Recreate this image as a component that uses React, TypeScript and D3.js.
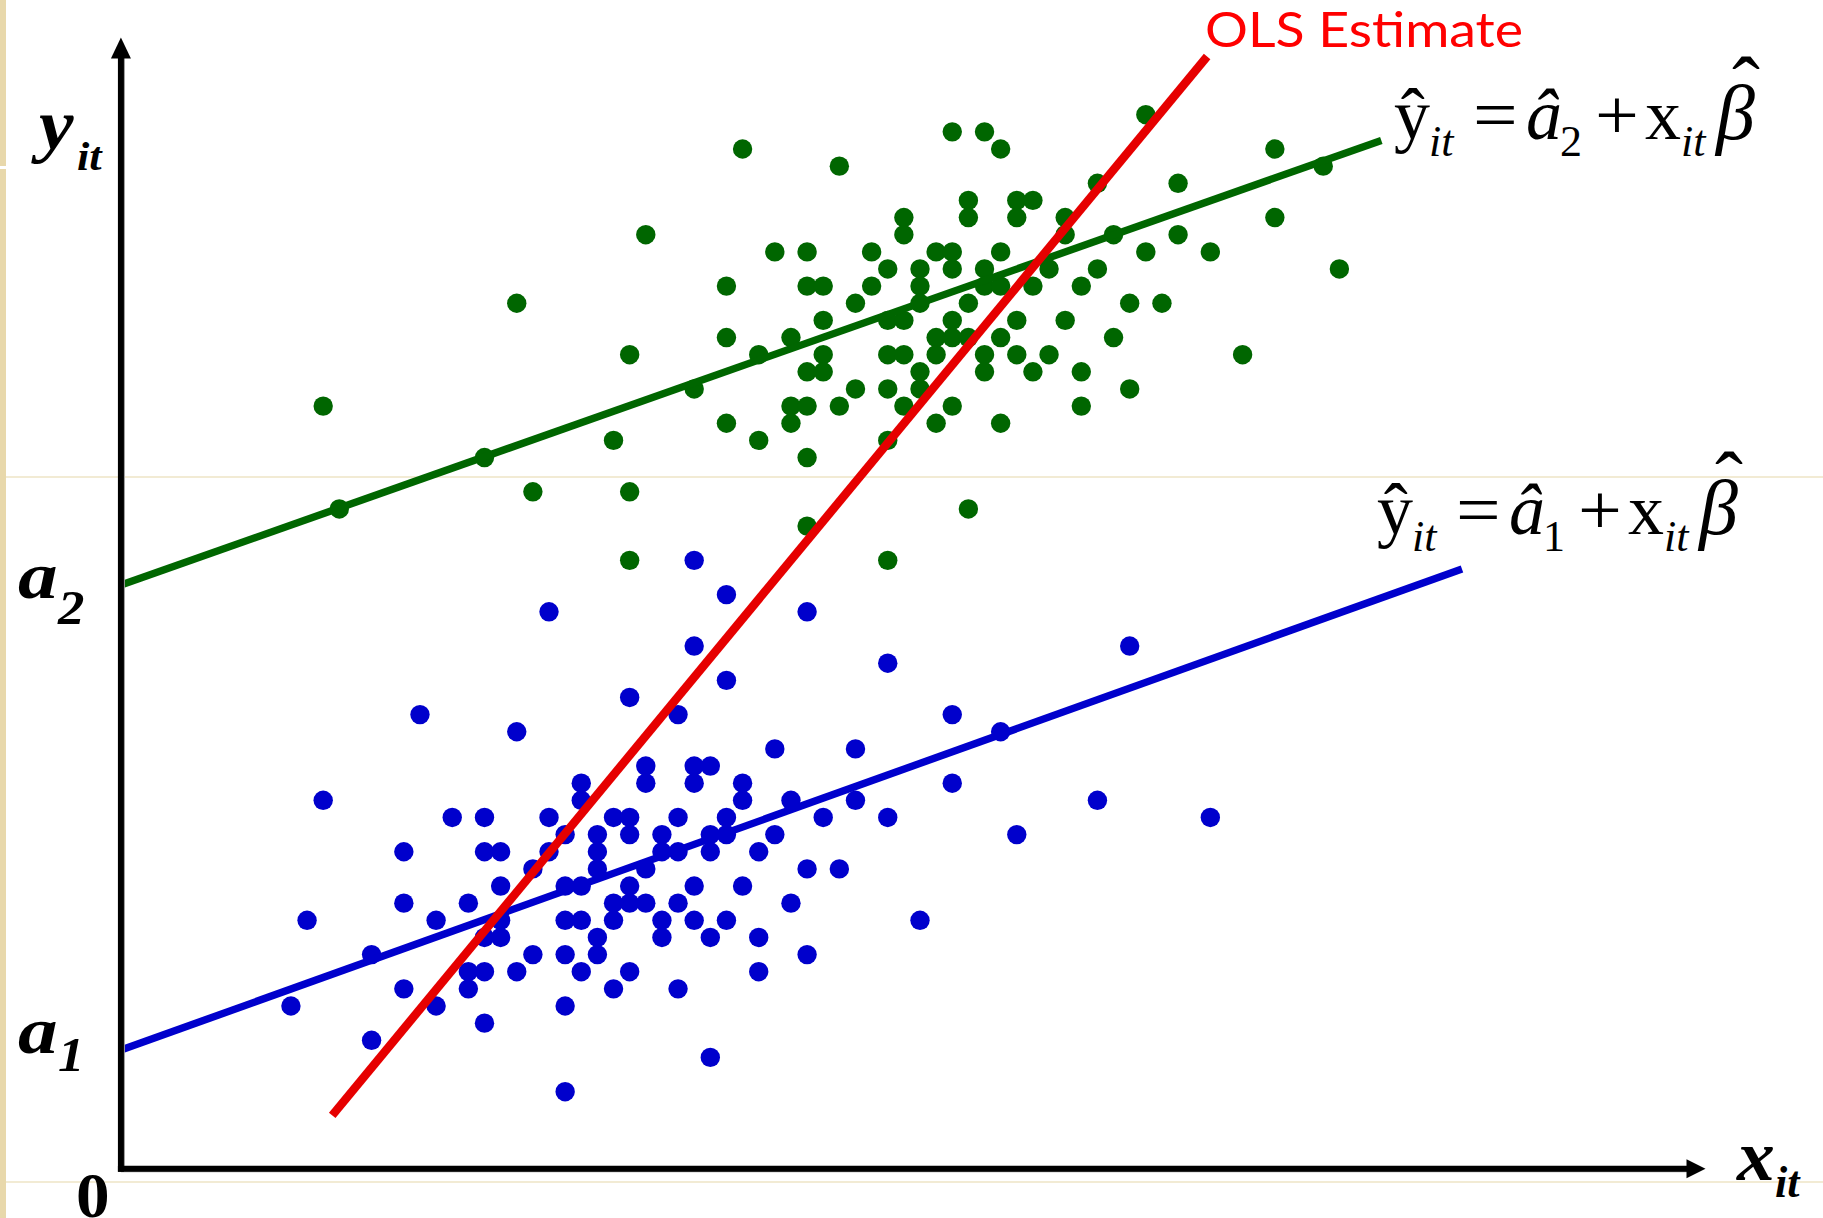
import React, { useEffect, useRef } from "react";
import * as d3 from "d3";

// values are in lattice units (one unit = one dot step)
// group 2, green: [x, y]
const greenPoints: [number, number][] = [
  [39, 60], [45, 59], [49, 56], [49, 55], [33, 55], [41, 54], [43, 54], [47, 54], [51, 54],
  [48, 53], [50, 53], [38, 52], [43, 52], [44, 52], [47, 52], [50, 52], [25, 51], [46, 51],
  [50, 51], [44, 50], [48, 50], [49, 50], [38, 49], [42, 49], [51, 49], [32, 48], [40, 48],
  [44, 48], [48, 48], [49, 48], [51, 48], [43, 47], [44, 47], [50, 47], [36, 46], [46, 46],
  [48, 46], [50, 46], [13, 45], [42, 45], [43, 45], [45, 45], [49, 45], [38, 44], [42, 44],
  [51, 44], [31, 43], [40, 43], [48, 43], [23, 42], [43, 42], [14, 39], [26, 40], [32, 40],
  [43, 38], [32, 36], [48, 36],
  [64, 62], [52, 61], [54, 61], [55, 60], [72, 60], [75, 59], [61, 58], [66, 58], [53, 57],
  [56, 57], [57, 57], [53, 56], [56, 56], [59, 56], [72, 56], [59, 55], [62, 55], [66, 55],
  [52, 54], [55, 54], [64, 54], [68, 54], [52, 53], [54, 53], [58, 53], [61, 53], [76, 53],
  [54, 52], [55, 52], [57, 52], [60, 52], [53, 51], [63, 51], [65, 51], [52, 50], [56, 50],
  [59, 50], [52, 49], [53, 49], [55, 49], [62, 49], [54, 48], [56, 48], [58, 48], [70, 48],
  [54, 47], [57, 47], [60, 47], [63, 46], [52, 45], [60, 45], [55, 44], [53, 39],
];

// group 1, blue: [x, y]
const bluePoints: [number, number][] = [
  [36, 36], [38, 34], [27, 33], [43, 33], [36, 31], [63, 31], [48, 30], [38, 29], [32, 28],
  [19, 27], [35, 27], [52, 27], [25, 26], [55, 26], [41, 25], [46, 25],
  [33, 24], [36, 24], [37, 24], [29, 23], [33, 23], [36, 23], [39, 23], [52, 23],
  [13, 22], [29, 22], [39, 22], [42, 22], [46, 22], [61, 22],
  [21, 21], [23, 21], [27, 21], [31, 21], [32, 21], [35, 21], [38, 21], [44, 21], [48, 21], [68, 21],
  [28, 20], [30, 20], [32, 20], [34, 20], [37, 20], [38, 20], [41, 20], [56, 20],
  [18, 19], [23, 19], [24, 19], [27, 19], [30, 19], [34, 19], [35, 19], [37, 19], [40, 19],
  [26, 18], [30, 18], [33, 18], [43, 18], [45, 18],
  [24, 17], [28, 17], [29, 17], [32, 17], [36, 17], [39, 17],
  [18, 16], [22, 16], [31, 16], [32, 16], [33, 16], [35, 16], [42, 16],
  [12, 15], [20, 15], [24, 15], [28, 15], [29, 15], [31, 15], [34, 15], [36, 15], [38, 15], [50, 15],
  [23, 14], [24, 14], [30, 14], [34, 14], [37, 14], [40, 14],
  [16, 13], [26, 13], [28, 13], [30, 13], [43, 13],
  [22, 12], [23, 12], [25, 12], [29, 12], [32, 12], [40, 12],
  [18, 11], [22, 11], [31, 11], [35, 11],
  [11, 10], [20, 10], [28, 10], [23, 9], [16, 8], [37, 7], [28, 5],
];

// fitted lines, ends in the same units
const greenFit: [number, number][] = [[0.46, 34.56], [78.6, 60.5]];
const blueFit: [number, number][] = [[0.46, 7.43], [83.6, 35.5]];
const olsFit: [number, number][] = [[13.56, 3.62], [67.8, 65.4]];

// axes: origin and arrow tips
const origin: [number, number] = [0.46, 0.5];
const axisEnd: [number, number] = [98.7, 66.5];

// equation pieces: text, offset, subscript, italic, size, x-stretch
const eqParts = [
  { t: "\u0177", dx: 0, sub: false, it: false, fs: 72, sx: 1 },
  { t: "it", dx: 35, sub: true, it: true, fs: 44, sx: 1 },
  { t: "=", dx: 79, sub: false, it: false, fs: 72, sx: 1.1 },
  { t: "\u00e2", dx: 132, sub: false, it: true, fs: 72, sx: 1 },
  { t: "#", dx: 166, sub: true, it: false, fs: 44, sx: 1 },
  { t: "+", dx: 201, sub: false, it: false, fs: 72, sx: 1.08 },
  { t: "x", dx: 251, sub: false, it: false, fs: 72, sx: 1 },
  { t: "it", dx: 287, sub: true, it: true, fs: 44, sx: 1 },
  { t: "\u03b2", dx: 322, sub: false, it: true, fs: 78, sx: 1 },
];

const W = 1823;
const H = 1218;
const serif = "'Liberation Serif', 'Times New Roman', serif";

export default function App() {
  const ref = useRef<SVGSVGElement>(null);

  useEffect(() => {
    const svg = d3.select(ref.current);
    svg.selectAll("*").remove();

    const x = d3.scaleLinear().domain([0, 100]).range([113.5, 1726.5]);
    const y = d3.scaleLinear().domain([0, 60]).range([1177.4, 149]);

    // slide background bits
    svg.append("rect").attr("width", W).attr("height", H).attr("fill", "#fff");
    svg.append("rect").attr("width", 6).attr("height", H).attr("fill", "#e8d8ab");
    svg.append("rect").attr("y", 166).attr("width", 6).attr("height", 3).attr("fill", "#fff");
    [477, 1182].forEach((yy) =>
      svg.append("line").attr("x1", 6).attr("x2", W).attr("y1", yy).attr("y2", yy)
        .attr("stroke", "#eee5c6").attr("stroke-width", 1.5)
    );

    const dots = (pts: [number, number][], color: string) =>
      svg.append("g").selectAll("circle").data(pts).enter().append("circle")
        .attr("cx", (d) => x(d[0]))
        .attr("cy", (d) => y(d[1]))
        .attr("r", 9.7)
        .attr("fill", color);

    dots(greenPoints, "#006600");
    dots(bluePoints, "#0000cc");

    const line = d3.line<[number, number]>().x((d) => x(d[0])).y((d) => y(d[1]));
    const fit = (pts: [number, number][], color: string, w: number) =>
      svg.append("path").datum(pts).attr("d", line).attr("fill", "none")
        .attr("stroke", color).attr("stroke-width", w);

    fit(greenFit, "#006600", 7.4);
    fit(blueFit, "#0000cc", 7.4);
    fit(olsFit, "#e60000", 8.5);

    // axes
    const X0 = x(origin[0]);
    const Y0 = y(origin[1]);
    const Xt = x(axisEnd[0]);
    const Yt = y(axisEnd[1]);
    const ax = svg.append("g");
    ax.append("line").attr("x1", X0 + 2.5).attr("x2", X0 + 2.5).attr("y1", Y0).attr("y2", Yt + 20)
      .attr("stroke", "#999").attr("stroke-width", 3);
    ax.append("line").attr("x1", X0).attr("x2", Xt - 16).attr("y1", Y0 + 2).attr("y2", Y0 + 2)
      .attr("stroke", "#999").attr("stroke-width", 3);
    ax.append("line").attr("x1", X0).attr("x2", X0).attr("y1", Y0 + 3).attr("y2", Yt + 18)
      .attr("stroke", "#000").attr("stroke-width", 6);
    ax.append("line").attr("x1", X0 - 3).attr("x2", Xt - 16).attr("y1", Y0).attr("y2", Y0)
      .attr("stroke", "#000").attr("stroke-width", 6);
    ax.append("path")
      .attr("d", `M${X0},${Yt} L${X0 - 10},${Yt + 21} L${X0 + 10},${Yt + 21} Z`)
      .attr("fill", "#000");
    ax.append("path")
      .attr("d", `M${Xt},${Y0} L${Xt - 19},${Y0 - 9.5} L${Xt - 19},${Y0 + 9.5} Z`)
      .attr("fill", "#000");

    const txt = (s: string, tx: number, ty: number, size: number, opts: any = {}) =>
      svg.append("text")
        .attr("transform", `translate(${tx},${ty}) scale(${opts.sx || 1},1)`)
        .text(s)
        .attr("font-family", opts.family || serif)
        .attr("font-size", size)
        .attr("font-weight", opts.bold ? "bold" : "normal")
        .attr("font-style", opts.italic ? "italic" : "normal")
        .attr("fill", opts.fill || "#000");

    // axis labels
    const bi = { bold: true, italic: true };
    txt("y", 39, 149, 72, { ...bi, sx: 1.08 });
    txt("it", 77, 170, 41, { ...bi, sx: 1.08 });
    txt("a", 18, 598, 66, { ...bi, sx: 1.2 });
    txt("2", 58, 624, 48, { ...bi, sx: 1.1 });
    txt("a", 18, 1053, 66, { ...bi, sx: 1.2 });
    txt("1", 58, 1071, 48, { ...bi, sx: 1.1 });
    txt("0", 76, 1217, 64, { bold: true, sx: 1.05 });
    txt("x", 1737, 1180, 72, { ...bi, sx: 1.05 });
    txt("it", 1775, 1197, 44, bi);

    txt("OLS Estimate", 0, 0, 49, { family: "Lato, 'Open Sans', sans-serif", fill: "#ff0000" })
      .attr("transform", "translate(1205,47)")
      .attr("textLength", 318).attr("lengthAdjust", "spacingAndGlyphs");

    // fitted-line equations
    const eq = (bx: number, by: number, idx: string) => {
      eqParts.forEach((p) => {
        txt(p.t === "#" ? idx : p.t, bx + p.dx, p.sub ? by + 17 : by, p.fs, { italic: p.it, sx: p.sx });
      });
      txt("\u02c6", bx + 338, by - 24, 84, {});
    };
    eq(1394, 139, "2");
    eq(1377, 534, "1");
  }, []);

  return (
    <svg ref={ref} width={W} height={H}
      style={{ position: "absolute", left: 0, top: 0, display: "block" }} />
  );
}
